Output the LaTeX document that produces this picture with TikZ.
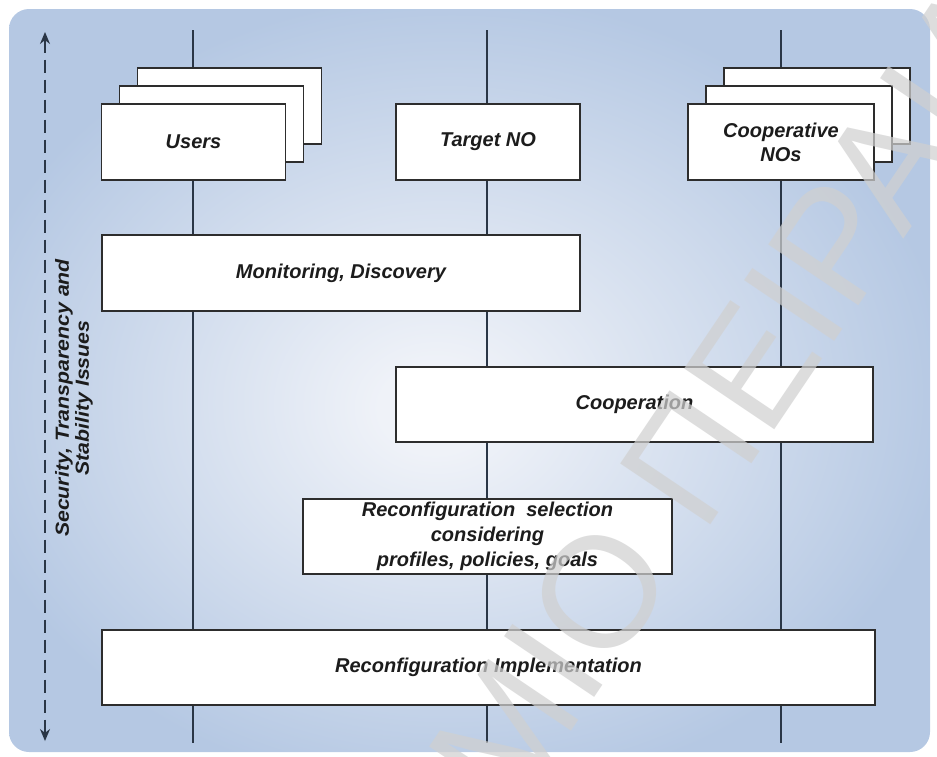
\documentclass[tikz,border=0pt]{standalone}
\usepackage{fontspec}
\setmainfont{Liberation Sans}
\usetikzlibrary{arrows.meta}

\definecolor{bgouter}{RGB}{181,200,227}
\definecolor{bginner}{RGB}{239,242,248}
\definecolor{laneline}{RGB}{42,54,70}
\definecolor{boxline}{RGB}{45,45,45}
\definecolor{labeltext}{RGB}{28,28,28}
\definecolor{markgray}{RGB}{208,208,208}

% soft glow of the panel, brightest a little left of and below the middle
\pgfdeclareradialshading{panelglow}{\pgfpoint{-2bp}{-2bp}}{%
  color(0bp)=(bginner); color(3bp)=(bginner); color(27bp)=(bgouter); color(50bp)=(bgouter)}

\tikzset{
  lane/.style={draw=laneline, line width=1.5pt},
  stagebox/.style={draw=boxline, fill=white, line width=1.6pt, inner sep=0pt,
    text=labeltext, align=center,
    font=\fontsize{20}{24}\selectfont\bfseries\itshape},
  stackbox/.style={stagebox, minimum width=184pt, minimum height=76pt},
  issuearrow/.style={draw=laneline, line width=1.4pt, dash pattern=on 13pt off 7pt,
    {Stealth[length=12pt,width=10pt]}-{Stealth[length=12pt,width=10pt]}},
  issuelabel/.style={rotate=90, xscale=1.12, align=center, text=labeltext, inner sep=0pt,
    font=\fontsize{19}{20}\selectfont\bfseries\itshape},
  markstyle/.style={rotate=56, inner sep=0pt, text=markgray, text opacity=0.72,
    font=\fontsize{158}{158}\selectfont}
}

\begin{document}
\begin{tikzpicture}[x=1pt,y=-1pt]
\useasboundingbox (0,0) rectangle (937,756);

% background panel
\shade[shading=panelglow, rounded corners=20pt] (9,9) rectangle (930,752);

% lifelines of the three parties
\coordinate (usersTop) at (193,30);  \coordinate (usersBot) at (193,743);
\coordinate (targetTop) at (487,30); \coordinate (targetBot) at (487,743);
\coordinate (coopTop) at (781,30);   \coordinate (coopBot) at (781,743);
\draw[lane] (usersTop) -- (usersBot);
\draw[lane] (targetTop) -- (targetBot);
\draw[lane] (coopTop) -- (coopBot);

% cross-cutting issues arrow
\coordinate (issuesTop) at (45,32);
\coordinate (issuesBot) at (45,741);
\draw[issuearrow] (issuesTop) -- (issuesBot);
\node[issuelabel] (issues) at (74,398)
  {Security, Transparency and\\Stability Issues};

% parties
\node[stackbox] (usersBack) at (229.5,106) {};
\node[stackbox] (usersMid) at (211.5,124) {};
\node[stackbox] (users) at (193.5,142) {Users};

\node[stackbox] (target) at (488,142) {Target NO};

\node[stackbox, minimum width=186pt] (coopBack) at (817,106) {};
\node[stackbox, minimum width=186pt] (coopMid) at (799,124) {};
\node[stackbox, minimum width=186pt] (coop) at (781,142) {Cooperative\\NOs};

% phases
\node[stagebox, minimum width=478pt, minimum height=76pt] (monitor) at (341,273)
  {Monitoring, Discovery};
\node[stagebox, minimum width=477pt, minimum height=75pt] (cooperation) at (634.5,404.5)
  {Cooperation};
\node[stagebox, minimum width=369pt, minimum height=75pt,
      font=\fontsize{20}{25}\selectfont\bfseries\itshape] (selection) at (487.5,536.5)
  {Reconfiguration\ \ selection\\considering\\profiles, policies, goals};
\node[stagebox, minimum width=773pt, minimum height=75pt] (implement) at (488.5,667.5)
  {Reconfiguration Implementation};

% watermark
\node[markstyle] (mark) at (600,592)
  {\llap{ΠΑΝΕΠΙΣΤΗΜΙ}Ο\rlap{\ ΠΕΙΡΑΙΑ}};
\end{tikzpicture}
\end{document}
